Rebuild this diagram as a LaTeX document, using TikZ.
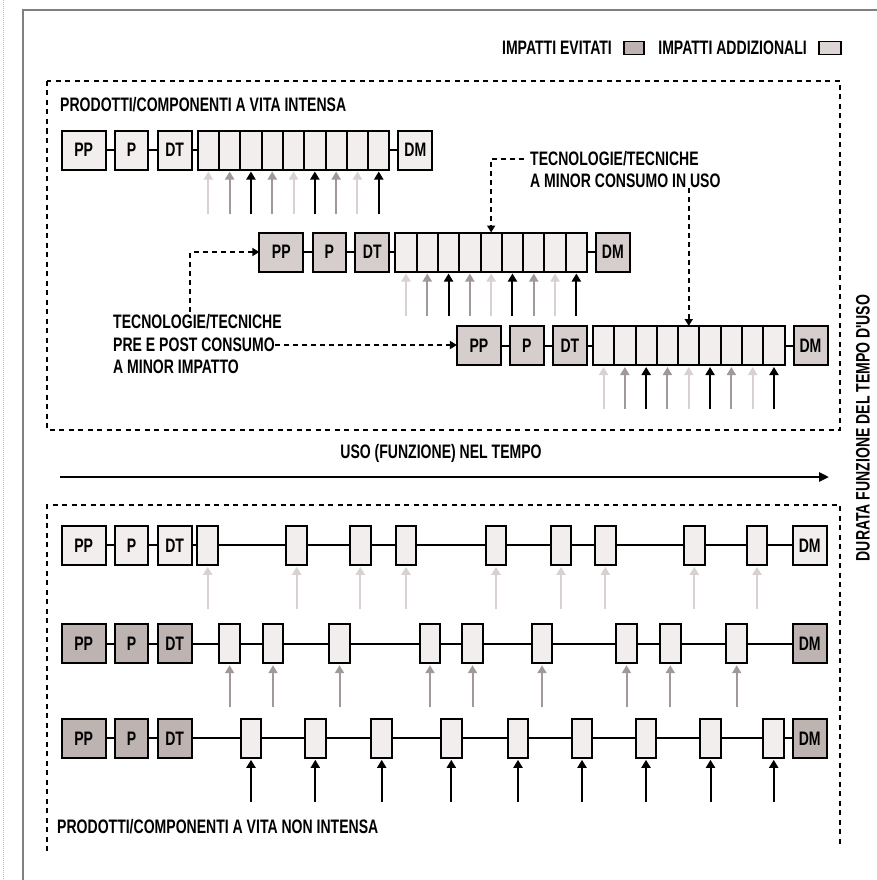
\documentclass[tikz,border=0pt]{standalone}
\usepackage{fontspec}
\newfontfamily\condfont[FakeStretch=0.72]{Liberation Sans}
\newcommand\labfont{\condfont\bfseries\fontsize{19.5}{23}\selectfont}
\usetikzlibrary{arrows.meta,positioning}

\definecolor{cellfill}{HTML}{F2EEED}
\definecolor{midfill}{HTML}{D6CECC}
\definecolor{darkfill}{HTML}{BDB4B1}
\definecolor{addfill}{HTML}{DDD6D5}
\definecolor{lightarr}{HTML}{D9D1CF}
\definecolor{midarr}{HTML}{A19997}

\begin{document}
\begin{tikzpicture}[x=1pt, y=-1pt, line join=miter,
  blk/.style={draw, line width=2pt, fill=cellfill, inner sep=0pt, outer sep=0pt, minimum height=39pt, font=\labfont},
  link/.style={line width=2pt},
  upar/.style={line width=2pt, -{Triangle[width=9pt,length=8pt]}, shorten >=2pt},
  dashcon/.style={line width=2pt, dash pattern=on 5pt off 4pt, -{Triangle[width=8pt,length=7pt]}},
  dashbox/.style={line width=2pt, dash pattern=on 5pt off 4.5pt},
  txt/.style={font=\labfont, inner sep=0pt, anchor=west}]

  %% ════ cornice esterna ════
  \draw[gray!50, line width=1pt, dash pattern=on 1pt off 1pt] (3,0) -- (3,880);
  \draw[gray, line width=1.2pt] (877,10) -- (23,10) -- (23,880);

  %% ════ legenda ════
  \node[txt, anchor=east] (leg1) at (612,48) {IMPATTI EVITATI};
  \node[draw, line width=1.5pt, fill=darkfill, minimum width=20pt, minimum height=13pt, inner sep=0pt, anchor=west] (legbox1) at (623,48) {};
  \node[txt, anchor=east] (leg2) at (807,48) {IMPATTI ADDIZIONALI};
  \node[draw, line width=1.5pt, fill=addfill, minimum width=22pt, minimum height=13pt, inner sep=0pt, anchor=west] (legbox2) at (818,48) {};

  %% ════ riquadri tratteggiati ════
  \draw[dashbox] (47,81) rectangle (840,430);
  \draw[dashbox] (47,851) |- (840,505) -- (840,847);

  %% ════ vita intensa: tre file ════
  \node[txt] (tint) at (60,105) {PRODOTTI/COMPONENTI A VITA INTENSA};
  \foreach \r/\dx/\yy/\fc in {1/0/150/cellfill, 2/197.6/252/midfill, 3/395.2/345.5/midfill}{
    \node[blk, fill=\fc, minimum width=44pt, anchor=west] (pp\r) at (61.7+\dx,\yy) {PP};
    \node[blk, fill=\fc, minimum width=33.3pt, anchor=west] (p\r) at (115+\dx,\yy) {P};
    \node[blk, fill=\fc, minimum width=34pt, anchor=west] (dt\r) at (157.7+\dx,\yy) {DT};
    \foreach \k in {1,...,9}
      \node[blk, minimum width=21.3pt, anchor=west] (c\r-\k) at (197.7+\dx+21.3*\k-21.3,\yy) {};
    \node[blk, fill=\fc, minimum width=34pt, anchor=west] (dm\r) at (398.3+\dx,\yy) {DM};
    \draw[link] (pp\r) -- (p\r) -- (dt\r) -- (c\r-1);
    \draw[link] (c\r-9) -- (dm\r);
    \foreach \k/\ac in {1/lightarr,2/midarr,3/black,4/midarr,5/lightarr,6/black,7/midarr,8/lightarr,9/black}
      \draw[upar, \ac] ([yshift=-44pt]c\r-\k.south) -- (c\r-\k.south);
  }

  %% ════ etichette con frecce tratteggiate ════
  \node[txt] (tm1) at (530,159) {TECNOLOGIE/TECNICHE};
  \node[txt] (tm2) at (530,181) {A MINOR CONSUMO IN USO};
  \draw[dashcon] ([xshift=-6pt]tm1.west) -| (c2-5);
  \draw[dashcon] (c3-5 |- tm2.south) -- (c3-5);

  \node[txt] (tl1) at (113,322) {TECNOLOGIE/TECNICHE};
  \node[txt] (tl2) at (113,345) {PRE E POST CONSUMO};
  \node[txt] (tl3) at (113,367) {A MINOR IMPATTO};
  \draw[dashcon] ([xshift=-7pt,yshift=3pt]tl1.north) |- (pp2);
  \draw[dashcon] (tl2.east) -- (tl2.east -| pp3.west);

  %% ════ asse del tempo ════
  \node[font=\labfont, inner sep=0pt] (tax) at (441,453) {USO (FUNZIONE) NEL TEMPO};
  \coordinate (axs) at (60,477);
  \coordinate (axe) at (829,477);
  \draw[line width=2.5pt, -{Triangle[width=9pt,length=10pt]}] (axs) -- (axe);
  \node[font=\labfont, inner sep=0pt, rotate=90] (tdur) at (863,428) {DURATA FUNZIONE DEL TEMPO D'USO};

  %% ════ vita non intensa: tre file ════
  \foreach \r/\yy/\fc/\ac/\xs in {
      a/545.3/cellfill/lightarr/{207.7,296.7,360.3,406,496,561,605.3,694.3,757},
      b/643.7/darkfill/midarr/{229.6,273,339.5,430,472.5,542,626.5,670.3,736.7},
      c/738.3/darkfill/black/{251,315.3,381.7,451.3,518,582,646,710.5,773.7}}{
    \node[blk, fill=\fc, minimum width=44pt, anchor=west] (pp\r) at (61.7,\yy) {PP};
    \node[blk, fill=\fc, minimum width=33.3pt, anchor=west] (p\r) at (115,\yy) {P};
    \node[blk, fill=\fc, minimum width=34pt, anchor=west] (dt\r) at (157.7,\yy) {DT};
    \node[blk, fill=\fc, minimum width=34pt, anchor=west] (dm\r) at (792.7,\yy) {DM};
    \draw[link] (pp\r) -- (p\r) -- (dt\r);
    \draw[link] (dt\r) -- (dm\r);
    \foreach \x [count=\k] in \xs {
      \node[blk, minimum width=20.5pt] (\r\k) at (\x,\yy) {};
      \draw[upar, \ac] ([yshift=-44pt]\r\k.south) -- (\r\k.south);
    }
  }
  \node[txt] (tnon) at (57,827) {PRODOTTI/COMPONENTI A VITA NON INTENSA};

  \pgfresetboundingbox
  \path[use as bounding box] (0,0) rectangle (877,880);
\end{tikzpicture}
\end{document}
